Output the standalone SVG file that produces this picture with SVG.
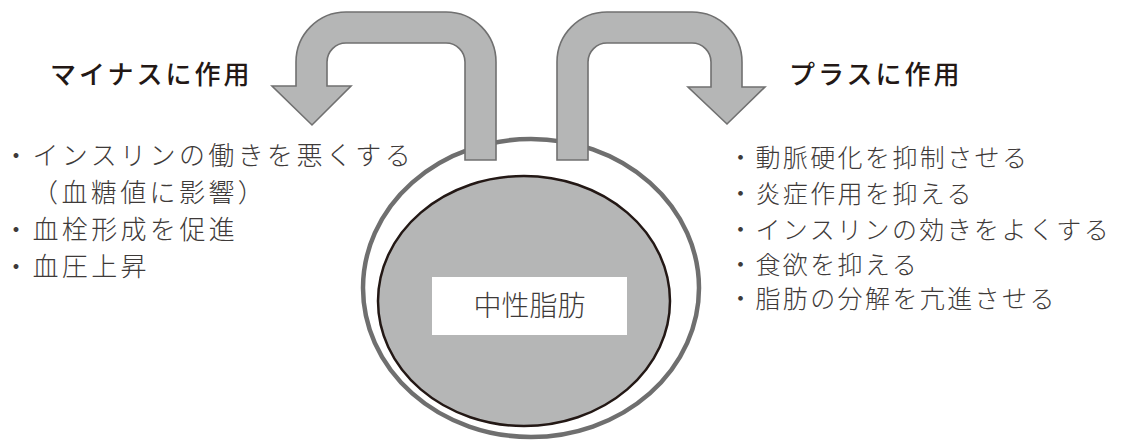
<svg xmlns="http://www.w3.org/2000/svg" width="1128" height="440" viewBox="0 0 1128 440">
<style>
.arrow{fill:#b5b6b6;stroke:#707070;stroke-width:1.6;stroke-linejoin:miter}
.title{font-family:"Noto Sans CJK JP","Noto Sans",sans-serif;font-size:26px;font-weight:500;fill:#231815;letter-spacing:3px}
.item{font-family:"Noto Sans CJK JP","Noto Sans",sans-serif;font-size:25px;font-weight:300;fill:#3e3a39}
.label{font-family:"Noto Sans CJK JP","Noto Sans",sans-serif;font-size:28px;font-weight:300;fill:#3e3a39}
</style>
<rect width="1128" height="440" fill="#ffffff"/>
<g id="fat">
<ellipse cx="531" cy="288" rx="168" ry="149" fill="#ffffff" stroke="#6f6f6f" stroke-width="4.5"/>
<ellipse cx="524" cy="301" rx="146" ry="125" fill="#b5b6b6" stroke="#231815" stroke-width="2.5"/>
<rect x="432" y="277" width="195" height="58" fill="#ffffff"/>
<text class="label" x="529.5" y="316" text-anchor="middle">中性脂肪</text>
</g>
<g id="connectors">
<path id="arrow-minus" class="arrow" d="M496,160 L496,62 A50,50 0 0 0 446,12 L346,12 A50,50 0 0 0 296,62 L296,86 L272,86 L312,125 L351,86 L327,86 L327,62 A19,19 0 0 1 346,43 L446,43 A19,19 0 0 1 465,62 L465,160 Z"/>
<path id="arrow-plus" class="arrow" d="M557,160 L557,62 A50,50 0 0 1 607,12 L692,12 A50,50 0 0 1 742,62 L742,87 L765,87 L727,124 L688,87 L711,87 L711,62 A19,19 0 0 0 692,43 L607,43 A19,19 0 0 0 588,62 L588,160 Z"/>
</g>
<g id="minus">
<text class="title" x="50" y="84">マイナスに作用</text>
<g class="item" style="font-size:26px;letter-spacing:3.4px">
<text x="3" y="165">・インスリンの働きを悪くする</text>
<text x="32" y="202">（血糖値に影響）</text>
<text x="3" y="239">・血栓形成を促進</text>
<text x="3" y="276">・血圧上昇</text>
</g>
</g>
<g id="plus">
<text class="title" x="789" y="84">プラスに作用</text>
<g class="item" style="letter-spacing:2.4px">
<text x="728" y="167">・動脈硬化を抑制させる</text>
<text x="728" y="202.5">・炎症作用を抑える</text>
<text x="728" y="238.5">・インスリンの効きをよくする</text>
<text x="728" y="273.5">・食欲を抑える</text>
<text x="728" y="307.5">・脂肪の分解を亢進させる</text>
</g>
</g>
</svg>
